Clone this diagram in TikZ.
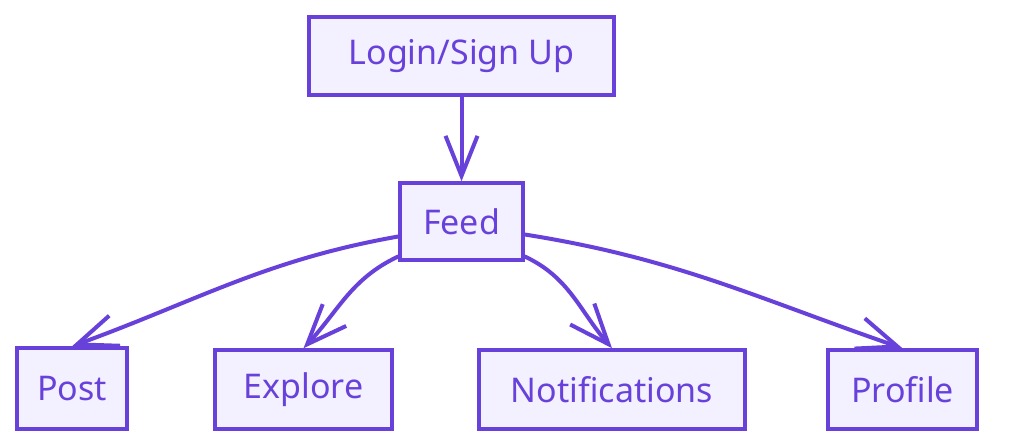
\documentclass[tikz,border=0pt]{standalone}
\usepackage{fontspec}
\setmainfont{Noto Sans}
\usetikzlibrary{arrows.meta}
\definecolor{violetline}{HTML}{6741D9}
\definecolor{violetfill}{HTML}{F3F0FF}
\tikzset{
    box/.style={draw=violetline, fill=violetfill, line width=3.5pt, text=violetline,
        inner sep=0pt, font=\fontsize{34}{40}\selectfont},
    link/.style={draw=violetline, line width=4pt, line cap=round,
        -{Straight Barb[length=40pt, width=32pt, line width=4pt]}},
}
\begin{document}
\begin{tikzpicture}[x=1pt, y=-1pt]
    \useasboundingbox (0,0) rectangle (1024,446);

        \node[box, minimum width=305pt, minimum height=78pt] (login) at (461.5,56) {Login/Sign Up};
        \node[box, minimum width=123pt, minimum height=77pt] (feed) at (461.5,221.5) {Feed};

        \node[box, minimum width=110pt, minimum height=81pt] (post) at (72,388.5) {Post};
        \node[box, minimum width=177pt, minimum height=79pt] (explore) at (303.5,389.5) {Explore};
        \node[box, minimum width=266pt, minimum height=79pt] (notif) at (612,389.5) {Notifications};
        \node[box, minimum width=149pt, minimum height=79pt] (profile) at (902.5,389.5) {Profile};

        \draw[link] (login.south) -- (feed.north);
        \draw[link] ([yshift=-15pt]feed.west) to[out=190, in=20] (post.north);
        \draw[link] ([yshift=-35pt]feed.west) to[out=205, in=47] (explore.north);
        \draw[link] ([yshift=-35pt]feed.east) to[out=-25, in=131] (notif.north);
        \draw[link] ([yshift=-13pt]feed.east) to[out=-9, in=161] (profile.north);
\end{tikzpicture}
\end{document}
